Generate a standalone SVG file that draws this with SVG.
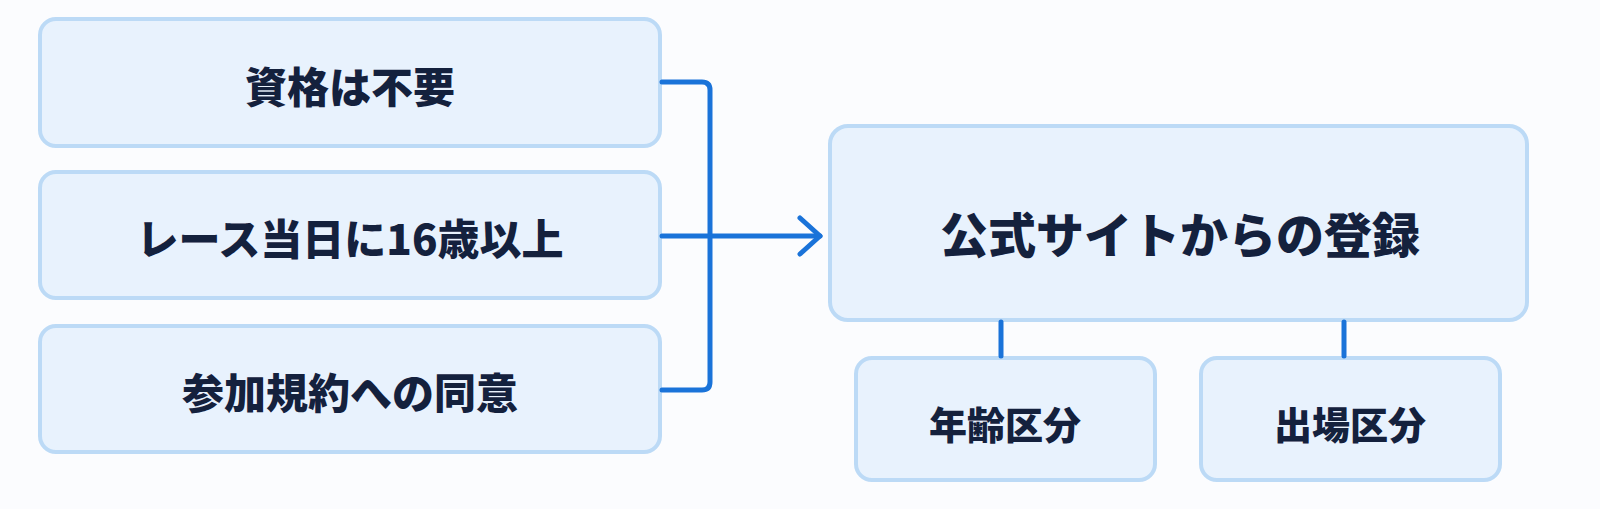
<svg xmlns="http://www.w3.org/2000/svg" width="1600" height="509" viewBox="0 0 1600 509">
<style>
.box{fill:#e8f2fd;stroke:#bcdaf6;stroke-width:4}
.t{font-family:"Noto Sans CJK JP","Noto Sans",sans-serif;font-weight:900;fill:#14213d;text-anchor:middle;dominant-baseline:central}
.c{fill:none;stroke:#1a73d9;stroke-width:5;stroke-linecap:round;stroke-linejoin:round}
</style>
<rect width="1600" height="509" fill="#fbfcfe"/>
<g id="n1"><rect class="box" x="40" y="19" width="620" height="127" rx="16"/><text class="t" x="350" y="84" font-size="42">資格は不要</text></g>
<g id="n2"><rect class="box" x="40" y="172" width="620" height="126" rx="16"/><text class="t" x="350" y="236" font-size="42">レース当日に16歳以上</text></g>
<g id="n3"><rect class="box" x="40" y="326" width="620" height="126" rx="16"/><text class="t" x="350" y="390" font-size="42">参加規約への同意</text></g>
<g id="n4"><rect class="box" x="830" y="126" width="697" height="194" rx="18"/><text class="t" x="1180" y="232" font-size="48">公式サイトからの登録</text></g>
<g id="n5"><rect class="box" x="856" y="358" width="299" height="122" rx="16"/><text class="t" x="1005" y="422" font-size="38">年齢区分</text></g>
<g id="n6"><rect class="box" x="1201" y="358" width="299" height="122" rx="16"/><text class="t" x="1350" y="422" font-size="38">出場区分</text></g>
<g id="connectors">
<path class="c" d="M662 82H702Q710 82 710 90V382Q710 390 702 390H662"/>
<path class="c" d="M662 236H820"/>
<path class="c" d="M800 218L820 236L800 254"/>
<path class="c" d="M1001 322V356"/>
<path class="c" d="M1344 322V356"/>
</g>
</svg>
